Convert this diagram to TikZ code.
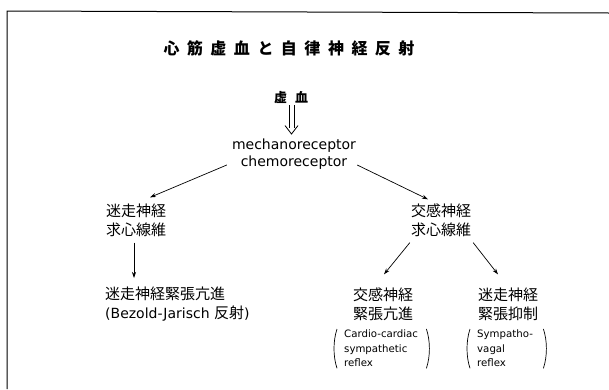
\documentclass[tikz,border=0pt]{standalone}
\usepackage{fontspec}
\setmainfont{DejaVu Sans}
\newfontfamily\jp{Noto Sans CJK JP}
\usetikzlibrary{arrows.meta,calc}
\newcommand\ttlgap{\hspace{7.5pt}}
\begin{document}
\begin{tikzpicture}[x=1pt,y=-1pt,
  jpt/.style={font=\jp\fontsize{15}{19}\selectfont, align=left, inner sep=1pt},
  lat/.style={font=\rmfamily\fontsize{14}{17}\selectfont, align=center, inner sep=1pt},
  smallbox/.style={font=\rmfamily\fontsize{10.2}{14.5}\selectfont, align=left, inner ysep=1pt, inner xsep=7pt, anchor=north west},
  arr/.style={-{Stealth[length=6pt,width=4pt]}, line width=0.7pt},
  paren/.style={line width=0.7pt},
  dbl/.style={line width=0.8pt, line join=miter}]
\useasboundingbox (0,0) rectangle (609,389);
\draw[line width=1pt] (7,389) -- (7,11) -- (609,13);

\node[font=\jp\bfseries\fontsize{16}{16}\selectfont, inner sep=1pt] (title) at (289,48)
  {心\ttlgap 筋\ttlgap 虚\ttlgap 血\ttlgap と\ttlgap 自\ttlgap 律\ttlgap 神\ttlgap 経\ttlgap 反\ttlgap 射};
\node[font=\jp\bfseries\fontsize{13}{13}\selectfont, inner sep=1pt] (isch) at (291,98) {虚\hspace{8pt}血};
\node[lat] (recep) at (294,154.5) {mechanoreceptor\\chemoreceptor};
\node[jpt] (vagaff) at (136,220.5) {迷走神経\\求心線維};
\node[jpt] (symaff) at (441,220.5) {交感神経\\求心線維};
\node[jpt, anchor=north west] (vagtone) at (104,286)
  {迷走神経緊張亢進\\{\rmfamily\fontsize{14}{19}\selectfont (Bezold-Jarisch }反射{\rmfamily\fontsize{14}{19}\selectfont )}};
\node[jpt] (symtone) at (383,304) {交感神経\\緊張亢進};
\node[jpt] (vagsup) at (508,304) {迷走神経\\緊張抑制};
\node[smallbox, text width=75pt] (ref1) at (337,329) {Cardio-cardiac\\sympathetic\\reflex};
\node[smallbox, text width=59pt] (ref2) at (470,329) {Sympatho-\\vagal\\reflex};

\foreach \n in {ref1,ref2}{
  \draw[paren] (\n.north west) .. controls ($(\n.north west)+(-4,12)$) and ($(\n.south west)+(-4,-12)$) .. (\n.south west);
  \draw[paren] (\n.north east) .. controls ($(\n.north east)+(4,12)$) and ($(\n.south east)+(4,-12)$) .. (\n.south east);
}

% hollow double arrow from isch to recep
\coordinate (dtop) at ($(isch.south)+(0.5,0)$);
\coordinate (dtip) at ($(dtop |- recep.north)+(0,-4)$);
\draw[dbl] ($(dtop)+(-2.5,0)$) -- ($(dtip)+(-2.5,-6)$);
\draw[dbl] ($(dtop)+(2.5,0)$) -- ($(dtip)+(2.5,-6)$);
\draw[dbl] ($(dtip)+(-6.5,-8.5)$) -- (dtip) -- ($(dtip)+(6.5,-8.5)$);

\draw[arr] ($(recep.south west)+(-4,-6)$) -- ($(vagaff.north)+(14,-5.5)$);
\draw[arr] ($(recep.south east)+(0,-6)$) -- ($(symaff.north)+(-13,-3.5)$);
\coordinate (va) at ($(vagaff.south)+(-2,4.5)$);
\draw[arr, shorten >=8pt] (va) -- (va |- vagtone.north);
\draw[arr] ($(symaff.south west)+(0,4.5)$) -- ($(symtone.north)+(1,-12)$);
\draw[arr] ($(symaff.south east)+(1,4.5)$) -- ($(vagsup.north)+(-10,-12)$);
\end{tikzpicture}
\end{document}
